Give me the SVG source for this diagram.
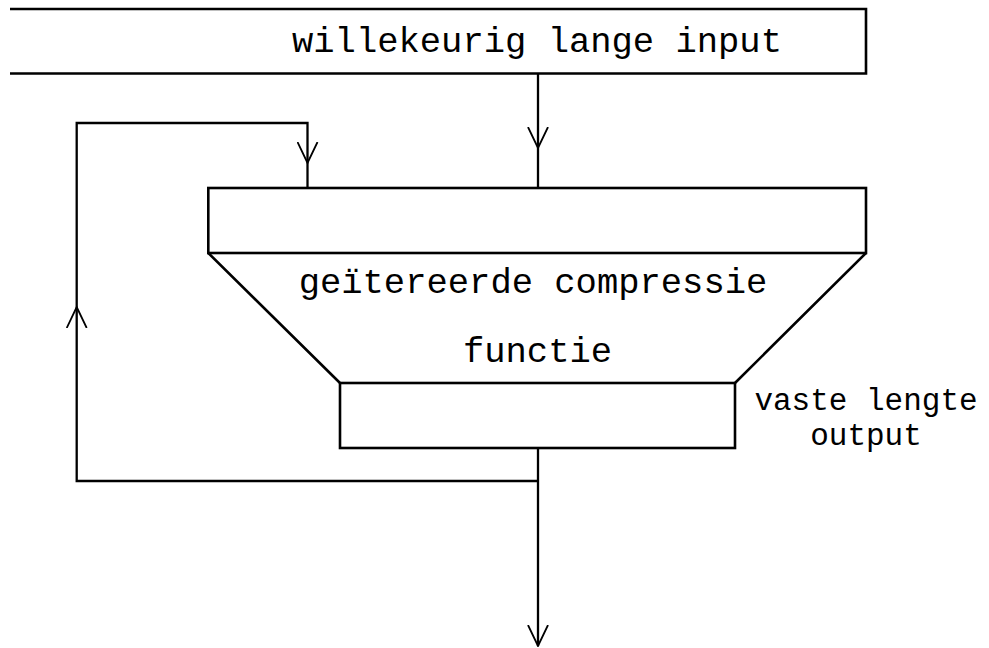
<svg xmlns="http://www.w3.org/2000/svg" width="989" height="648" viewBox="0 0 989 648">
<style>
  .shape{fill:none;stroke:#000;stroke-width:2.6;stroke-linejoin:miter}
  .conn{fill:none;stroke:#000;stroke-width:2.3}
  .big{font-family:"Liberation Mono","Courier New",monospace;font-size:35.5px;fill:#000}
  .small{font-family:"Liberation Mono","Courier New",monospace;font-size:31px;fill:#000}
</style>
<defs>
  <marker id="v" viewBox="0 0 22 22" refX="21" refY="11" markerWidth="22" markerHeight="22" markerUnits="userSpaceOnUse" orient="auto">
    <path d="M0,1 L21,11 L0,21" fill="none" stroke="#000" stroke-width="1.8"/>
  </marker>
</defs>
<rect width="989" height="648" fill="#fff"/>
<g id="input">
  <path class="shape" d="M10,9 H866 V73.5 H10"/>
  <text class="big" x="537" y="52" text-anchor="middle">willekeurig lange input</text>
</g>
<g id="compressie">
  <rect class="shape" x="208.3" y="188" width="657.7" height="65"/>
  <path class="shape" d="M208.3,253 L340,383 M866,253 L735,383"/>
  <text class="big" x="533" y="293" text-anchor="middle">geïtereerde compressie</text>
  <text class="big" x="537.5" y="362" text-anchor="middle">functie</text>
</g>
<g id="output">
  <rect class="shape" x="340" y="383" width="395" height="65"/>
  <text class="small" x="866" y="410" text-anchor="middle">vaste lengte</text>
  <text class="small" x="866" y="445" text-anchor="middle">output</text>
</g>
<g id="connectors">
  <path class="conn" d="M538,74 V148" marker-end="url(#v)"/>
  <path class="conn" d="M538,148 V188"/>
  <path class="conn" d="M538,481 H76.7 V307" marker-end="url(#v)"/>
  <path class="conn" d="M76.7,307 V123 H307.5 V163" marker-end="url(#v)"/>
  <path class="conn" d="M307.5,163 V188"/>
  <path class="conn" d="M538,448 V646" marker-end="url(#v)"/>
</g>
</svg>
